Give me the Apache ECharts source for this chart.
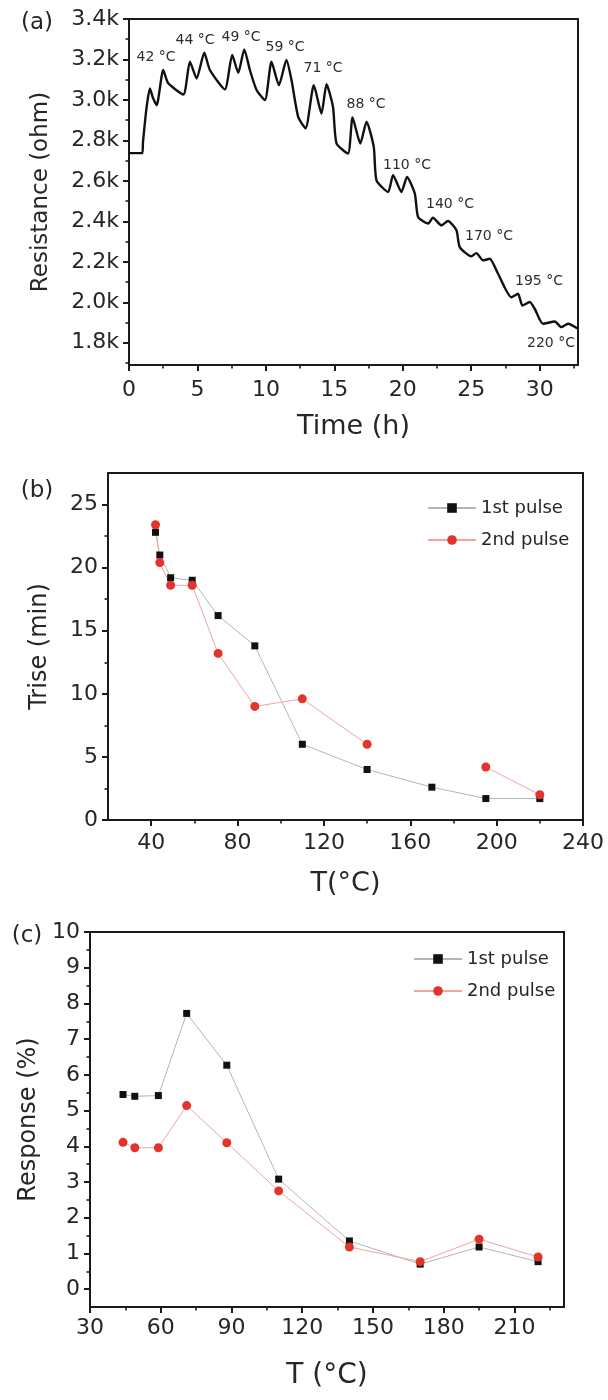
<!DOCTYPE html>
<html>
<head>
<meta charset="utf-8">
<script src="https://cdn.jsdelivr.net/npm/echarts@6/dist/echarts.min.js"></script>
<style>
  html, body { margin: 0; padding: 0; background: #ffffff; }
  #chart { width: 608px; height: 1400px; }
</style>
</head>
<body>
<div id="chart"></div>
<script>
// ---------- (a) resistance during the temperature steps ----------
const timeH = [0, 0.97, 1.02, 1.29, 1.53, 1.75, 2.02, 2.5, 2.87, 3.97, 4.45, 4.94, 5.5, 5.91, 7.0,
  7.54, 7.98, 8.42, 8.83, 9.32, 9.93, 10.41, 10.95, 11.5, 11.87, 12.36, 12.9, 13.5, 14.06, 14.43,
  14.9, 15.16, 16.0, 16.33, 16.9, 17.35, 17.88, 18.08, 18.93, 19.29, 19.9, 20.31, 20.88, 21.12,
  21.85, 22.2, 22.82, 23.3, 23.92, 24.16, 25.01, 25.38, 25.86, 26.35, 26.96, 27.93, 28.42, 28.74,
  29.27, 29.64, 30.24, 31.1, 31.58, 32.07, 32.8];
const resistanceOhm = [2737, 2737, 2790, 2966, 3057, 3010, 2974, 3148, 3082, 3027, 3189, 3106, 3233, 3148, 3052,
  3222, 3134, 3250, 3148, 3049, 2999, 3189, 3073, 3197, 3098, 2916, 2860, 3073, 2933, 3078,
  2966, 2785, 2735, 2913, 2785, 2892, 2768, 2603, 2545, 2628, 2545, 2619, 2537, 2421,
  2389, 2418, 2380, 2402, 2356, 2273, 2227, 2243, 2207, 2215, 2141, 2025, 2042, 1984,
  2001, 1968, 1894, 1905, 1877, 1894, 1869];
const stepLabels = ['42 °C', '44 °C', '49 °C', '59 °C', '71 °C', '88 °C', '110 °C', '140 °C', '170 °C', '195 °C', '220 °C'];

// ---------- (b) rise time vs temperature ----------
const tempB = [42, 44, 49, 59, 71, 88, 110, 140, 170, 195, 220];
const trise1st = [22.8, 21.0, 19.2, 19.0, 16.2, 13.8, 6.0, 4.0, 2.6, 1.7, 1.7];
const trise2nd = [23.4, 20.4, 18.6, 18.6, 13.2, 9.0, 9.6, 6.0, null, 4.2, 2.0];

// ---------- (c) response vs temperature ----------
const tempC = [44, 49, 59, 71, 88, 110, 140, 170, 195, 220];
const response1st = [5.45, 5.4, 5.42, 7.72, 6.27, 3.08, 1.35, 0.7, 1.18, 0.77];
const response2nd = [4.11, 3.96, 3.96, 5.14, 4.1, 2.75, 1.18, 0.77, 1.4, 0.9];

// ---------- tick values ----------
const ticksAX = [0, 5, 10, 15, 20, 25, 30];
const minorAX = [2.5, 7.5, 12.5, 17.5, 22.5, 27.5, 32.5];
const ticksAY = [1800, 2000, 2200, 2400, 2600, 2800, 3000, 3200, 3400];
const minorAY = [1700, 1900, 2100, 2300, 2500, 2700, 2900, 3100, 3300];
const ticksBX = [40, 80, 120, 160, 200, 240];
const minorBX = [60, 100, 140, 180, 220];
const ticksBY = [0, 5, 10, 15, 20, 25];
const minorBY = [2.5, 7.5, 12.5, 17.5, 22.5];
const ticksCX = [30, 60, 90, 120, 150, 180, 210];
const minorCX = [45, 75, 105, 135, 165, 195, 225];
const ticksCY = [0, 1, 2, 3, 4, 5, 6, 7, 8, 9, 10];
const minorCY = [0.5, 1.5, 2.5, 3.5, 4.5, 5.5, 6.5, 7.5, 8.5, 9.5];

// ---------- styling ----------
const FONT = 'DejaVu Sans';
const AXIS_COLOR = '#1a1a1a';
const TEXT_COLOR = '#262626';

function pairs(xs, ys) { return xs.map((x, i) => [x, ys[i]]); }

// Builds the three axes of one side of a boxed frame: labelled main axis,
// short-tick minor axis, and the plain line on the opposite side.
function axisTriple(dim, g, cfg) {
  const main = dim === 'x' ? 'bottom' : 'left';
  const opp = dim === 'x' ? 'top' : 'right';
  const base = { type: 'value', gridIndex: g, min: cfg.min, max: cfg.max, scale: true, splitLine: { show: false } };
  return [
    Object.assign({}, base, {
      position: main,
      axisLine: { show: true, onZero: false, lineStyle: { color: AXIS_COLOR, width: 2 } },
      axisTick: { show: true, inside: false, length: 6, customValues: cfg.ticks, lineStyle: { color: AXIS_COLOR, width: 2 } },
      axisLabel: {
        show: true, customValues: cfg.ticks, margin: cfg.margin, formatter: cfg.formatter,
        fontFamily: FONT, fontSize: 22, color: TEXT_COLOR, showMinLabel: true, showMaxLabel: true
      },
      name: cfg.name, nameLocation: 'middle', nameGap: cfg.nameGap,
      nameTextStyle: { fontFamily: FONT, fontSize: cfg.nameSize, color: TEXT_COLOR }
    }),
    Object.assign({}, base, {
      position: main,
      axisLine: { show: false, onZero: false },
      axisTick: { show: true, inside: false, length: 3.5, customValues: cfg.minor, lineStyle: { color: AXIS_COLOR, width: 1.6 } },
      axisLabel: { show: false }
    }),
    Object.assign({}, base, {
      position: opp,
      axisLine: { show: true, onZero: false, lineStyle: { color: AXIS_COLOR, width: 2 } },
      axisTick: { show: false },
      axisLabel: { show: false }
    })
  ];
}

const xAxes = [].concat(
  axisTriple('x', 0, { min: 0, max: 32.8, ticks: ticksAX, minor: minorAX, margin: 14, name: 'Time (h)', nameGap: 48, nameSize: 27 }),
  axisTriple('x', 1, { min: 20, max: 240, ticks: ticksBX, minor: minorBX, margin: 12, name: 'T(°C)', nameGap: 50, nameSize: 27 }),
  axisTriple('x', 2, { min: 30, max: 231, ticks: ticksCX, minor: minorCX, margin: 10, name: 'T (°C)', nameGap: 55, nameSize: 28 })
);
const yAxes = [].concat(
  axisTriple('y', 0, { min: 1690, max: 3400, ticks: ticksAY, minor: minorAY, margin: 10,
    formatter: v => (v / 1000).toFixed(1) + 'k', name: 'Resistance (ohm)', nameGap: 76, nameSize: 23 }),
  axisTriple('y', 1, { min: 0, max: 27.5, ticks: ticksBY, minor: minorBY, margin: 10, name: 'Trise (min)', nameGap: 56, nameSize: 24 }),
  axisTriple('y', 2, { min: -0.5, max: 10, ticks: ticksCY, minor: minorCY, margin: 10, name: 'Response (%)', nameGap: 40, nameSize: 24 })
);

const blackPulse = { symbol: 'rect', symbolSize: 7, itemStyle: { color: '#111111' }, lineStyle: { color: '#b5b5b5', width: 1 } };
const redPulse = { symbol: 'circle', symbolSize: 9, itemStyle: { color: '#e3342b' }, lineStyle: { color: '#f3a5a1', width: 1 } };

function pulseSeries(name, style, g, data) {
  return Object.assign({
    name: name, type: 'line', xAxisIndex: 3 * g, yAxisIndex: 3 * g, data: data,
    showSymbol: true, connectNulls: false, animation: false
  }, style);
}

// annotation placement for the temperature steps in (a), in pixels
const stepLabelPos = [[156, 57], [195, 40], [241, 37], [285, 47], [323, 68], [366, 104],
  [407, 165], [450, 204], [489, 236], [539, 281], [551, 343]];

const graphics = stepLabels.map((t, i) => ({
  type: 'text', x: stepLabelPos[i][0], y: stepLabelPos[i][1], silent: true,
  style: { text: t, fontFamily: FONT, fontSize: 14, fill: '#2e2e2e', textAlign: 'center', textVerticalAlign: 'middle' }
})).concat([['(a)', 37, 23], ['(b)', 37, 491], ['(c)', 27, 936]].map(p => ({
  type: 'text', x: p[1], y: p[2], silent: true,
  style: { text: p[0], fontFamily: FONT, fontSize: 23, fill: TEXT_COLOR, textAlign: 'center', textVerticalAlign: 'middle' }
})));

const legendStyle = {
  orient: 'vertical', itemWidth: 48, itemHeight: 12, itemGap: 14,
  textStyle: { fontFamily: FONT, fontSize: 18, color: TEXT_COLOR },
  data: ['1st pulse', '2nd pulse'], selectedMode: false
};

const chart = echarts.init(document.getElementById('chart'), null, { renderer: 'canvas' });
chart.setOption({
  backgroundColor: '#ffffff',
  animation: false,
  grid: [
    { left: 129, top: 19, width: 449, height: 346, outerBoundsMode: 'none' },
    { left: 108, top: 473, width: 475, height: 347, outerBoundsMode: 'none' },
    { left: 90, top: 932, width: 474, height: 375, outerBoundsMode: 'none' }
  ],
  xAxis: xAxes,
  yAxis: yAxes,
  legend: [
    Object.assign({ left: 422, top: 494 }, legendStyle),
    Object.assign({ left: 408, top: 945 }, legendStyle)
  ],
  series: [
    {
      name: 'Resistance', type: 'line', xAxisIndex: 0, yAxisIndex: 0,
      data: pairs(timeH, resistanceOhm), showSymbol: false, smooth: 0.2,
      lineStyle: { color: '#111111', width: 2.4 }, animation: false
    },
    pulseSeries('1st pulse', blackPulse, 1, pairs(tempB, trise1st)),
    pulseSeries('2nd pulse', redPulse, 1, pairs(tempB, trise2nd)),
    pulseSeries('1st pulse', blackPulse, 2, pairs(tempC, response1st)),
    pulseSeries('2nd pulse', redPulse, 2, pairs(tempC, response2nd))
  ],
  graphic: graphics
});
</script>
</body>
</html>
